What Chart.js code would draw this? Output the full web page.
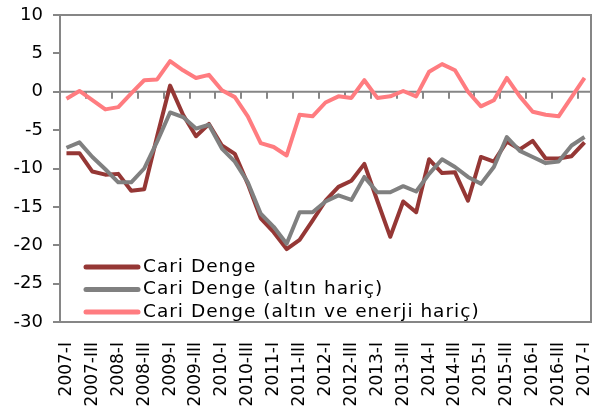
<!DOCTYPE html>
<html>
<head>
<meta charset="utf-8">
<script src="https://cdn.jsdelivr.net/npm/chart.js@4.4.1/dist/chart.umd.min.js"></script>
<style>
  html, body { margin: 0; padding: 0; background: #fff; }
</style>
</head>
<body>
<canvas id="chart" width="596" height="408"></canvas>
<script>
const quarters = [
  '2007-I', '2007-II', '2007-III', '2007-IV',
  '2008-I', '2008-II', '2008-III', '2008-IV',
  '2009-I', '2009-II', '2009-III', '2009-IV',
  '2010-I', '2010-II', '2010-III', '2010-IV',
  '2011-I', '2011-II', '2011-III', '2011-IV',
  '2012-I', '2012-II', '2012-III', '2012-IV',
  '2013-I', '2013-II', '2013-III', '2013-IV',
  '2014-I', '2014-II', '2014-III', '2014-IV',
  '2015-I', '2015-II', '2015-III', '2015-IV',
  '2016-I', '2016-II', '2016-III', '2016-IV',
  '2017-I'
];

const cariDenge = [
  -8.0, -8.0, -10.4, -10.8, -10.7, -12.9, -12.7, -5.8, 0.8, -3.0,
  -5.8, -4.2, -7.0, -8.1, -12.0, -16.5, -18.3, -20.5, -19.3, -16.8,
  -14.2, -12.4, -11.6, -9.4, -14.2, -18.9, -14.3, -15.7, -8.8, -10.6,
  -10.5, -14.2, -8.5, -9.1, -6.5, -7.5, -6.4, -8.7, -8.7, -8.4,
  -6.6
];

const cariDengeAltinHaric = [
  -7.3, -6.6, -8.5, -10.1, -11.8, -11.8, -10.0, -6.5, -2.7, -3.3,
  -4.8, -4.3, -7.4, -9.1, -11.8, -15.9, -17.6, -19.8, -15.7, -15.7,
  -14.3, -13.5, -14.1, -11.1, -13.1, -13.1, -12.3, -13.0, -10.7, -8.8,
  -9.8, -11.1, -12.0, -9.8, -5.9, -7.7, -8.5, -9.3, -9.1, -7.0,
  -5.9
];

const cariDengeAltinEnerjiHaric = [
  -0.9, 0.1, -1.1, -2.3, -2.0, -0.2, 1.5, 1.6, 4.0, 2.8,
  1.8, 2.2, 0.2, -0.7, -3.2, -6.7, -7.2, -8.3, -3.0, -3.2,
  -1.4, -0.6, -0.8, 1.5, -0.8, -0.6, 0.1, -0.6, 2.6, 3.6,
  2.8, 0.0, -1.9, -1.1, 1.8, -0.6, -2.6, -3.0, -3.2, -0.7,
  1.8
];

const seriesNames = ['Cari Denge', 'Cari Denge (altın hariç)', 'Cari Denge (altın ve enerji hariç)'];
const seriesColors = ['#953735', '#808080', '#ff7c80'];
const axisColor = '#868686';
const fontFamily = '"DejaVu Sans", sans-serif';

// zero line with category ticks, top/right frame
const framePlugin = {
  id: 'frame',
  beforeDatasetsDraw(chart) {
    const { ctx, chartArea: a, scales: { y } } = chart;
    ctx.save();
    ctx.strokeStyle = axisColor;
    ctx.lineWidth = 2;
    ctx.beginPath();
    ctx.moveTo(a.left, a.top);
    ctx.lineTo(a.right, a.top);
    ctx.lineTo(a.right, a.bottom);
    ctx.stroke();
    const y0 = y.getPixelForValue(0);
    const step = (a.right - a.left) / quarters.length;
    ctx.beginPath();
    ctx.moveTo(a.left, y0);
    ctx.lineTo(a.right, y0);
    for (let k = 2; k < quarters.length; k += 2) {
      const px = Math.round(a.left + k * step);
      ctx.moveTo(px, y0);
      ctx.lineTo(px, y0 + 7);
    }
    ctx.stroke();
    ctx.restore();
  }
};

// legend inside the plot, lower left
const legendPlugin = {
  id: 'innerLegend',
  afterDatasetsDraw(chart) {
    const { ctx, chartArea: a } = chart;
    ctx.save();
    ctx.font = '18.5px ' + fontFamily;
    ctx.letterSpacing = '1px';
    ctx.textBaseline = 'middle';
    ctx.fillStyle = '#000';
    chart.data.datasets.forEach((ds, i) => {
      const ly = a.bottom - 55 + i * 22.5;
      ctx.strokeStyle = ds.borderColor;
      ctx.lineWidth = 5;
      ctx.lineCap = 'round';
      ctx.beginPath();
      ctx.moveTo(a.left + 26, ly);
      ctx.lineTo(a.left + 78, ly);
      ctx.stroke();
      ctx.fillText(ds.label, a.left + 83, ly);
    });
    ctx.restore();
  }
};

const datasets = [cariDenge, cariDengeAltinHaric, cariDengeAltinEnerjiHaric].map((vals, i) => ({
  label: seriesNames[i],
  data: vals,
  borderColor: seriesColors[i],
  backgroundColor: seriesColors[i],
  borderWidth: 4,
  borderJoinStyle: 'round',
  pointRadius: 0,
  tension: 0,
  order: [2, 1, 3][i]
}));

new Chart(document.getElementById('chart'), {
  type: 'line',
  data: { labels: quarters, datasets },
  options: {
    responsive: false,
    animation: false,
    layout: { padding: { top: 15, right: 5, left: 0, bottom: 0 } },
    plugins: { legend: { display: false }, tooltip: { enabled: false } },
    scales: {
      x: {
        offset: true,
        grid: { display: false },
        border: { display: true, color: axisColor, width: 2 },
        ticks: {
          autoSkip: false,
          minRotation: 90,
          maxRotation: 90,
          padding: 12,
          color: '#000',
          font: { family: fontFamily, size: 17 },
          callback: (v, i) => (i % 2 === 0 ? quarters[i] : '')
        },
        afterFit: s => { s.height = 86; s.paddingLeft = 0; s.paddingRight = 0; }
      },
      y: {
        min: -30,
        max: 10,
        ticks: {
          stepSize: 5,
          padding: 10,
          color: '#000',
          font: { family: fontFamily, size: 18 }
        },
        grid: { drawOnChartArea: false, drawTicks: true, tickLength: 7, color: axisColor, lineWidth: 2 },
        border: { display: true, color: axisColor, width: 2 },
        afterFit: s => { s.width = 60; s.paddingTop = 0; s.paddingBottom = 0; }
      }
    }
  },
  plugins: [framePlugin, legendPlugin]
});
</script>
</body>
</html>
